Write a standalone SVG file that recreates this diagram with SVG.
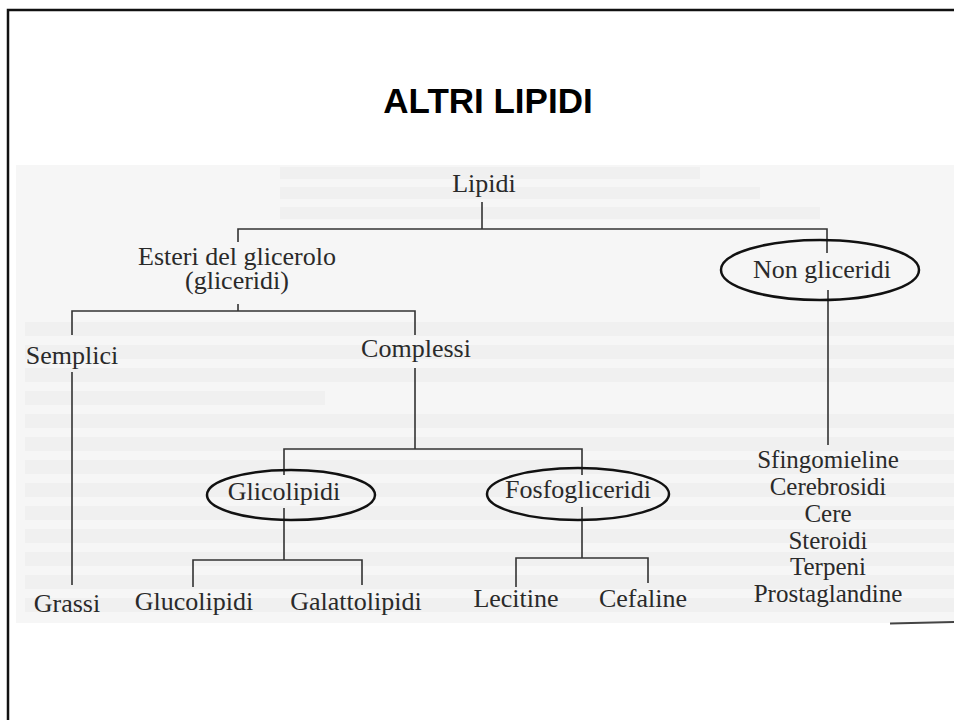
<svg xmlns="http://www.w3.org/2000/svg" width="954" height="720" viewBox="0 0 954 720">
<style>
.t{font-family:"Liberation Serif","Times New Roman",serif;font-size:26px;fill:#2a2a2a;text-anchor:middle}
.s{font-size:25px}
.c{stroke:#333;stroke-width:1.6;fill:none}
.e{stroke:#111;stroke-width:2.5;fill:none}
.g{fill:#000;opacity:0.025}
</style>
<rect x="0" y="0" width="954" height="720" fill="#fff"/>
<path d="M8 720 V10 H954" fill="none" stroke="#111" stroke-width="2.5"/>
<text x="488" y="113" font-family="Liberation Sans, Arial, sans-serif" font-weight="bold" font-size="35" text-anchor="middle" fill="#000">ALTRI LIPIDI</text>
<g id="scan-background">
<rect x="16" y="165" width="938" height="458" fill="#f6f6f6"/>
<rect class="g" x="280" y="167" width="420" height="12"/>
<rect class="g" x="280" y="187" width="480" height="12"/>
<rect class="g" x="280" y="207" width="540" height="12"/>
<rect class="g" x="25" y="322" width="929" height="14"/>
<rect class="g" x="25" y="345" width="929" height="14"/>
<rect class="g" x="25" y="368" width="929" height="14"/>
<rect class="g" x="25" y="391" width="300" height="14"/>
<rect class="g" x="25" y="414" width="929" height="14"/>
<rect class="g" x="25" y="437" width="929" height="14"/>
<rect class="g" x="25" y="460" width="929" height="14"/>
<rect class="g" x="25" y="483" width="929" height="14"/>
<rect class="g" x="25" y="506" width="929" height="14"/>
<rect class="g" x="25" y="529" width="929" height="14"/>
<rect class="g" x="25" y="552" width="929" height="14"/>
<rect class="g" x="25" y="575" width="929" height="14"/>
<rect class="g" x="25" y="598" width="929" height="14"/>
<line x1="890" y1="623.5" x2="954" y2="622" stroke="#444" stroke-width="2"/>
</g>
<g id="connectors">
<path class="c" d="M482 202 V229 M238 242 V229 H827 V253"/>
<path class="c" d="M238 304 V311 M72 335 V311 H415 V335"/>
<path class="c" d="M72 372 V585"/>
<path class="c" d="M415 368 V449 M284 475 V449 H582 V475"/>
<path class="c" d="M284 508 V560 M193 587 V560 H362 V585"/>
<path class="c" d="M582 507 V558 M516 587 V558 H648 V583"/>
<path class="c" d="M828 290 V445"/>
</g>
<g id="lipidi"><text class="t" x="484" y="192">Lipidi</text></g>
<g id="esteri"><text class="t" x="237" y="265">Esteri del glicerolo</text><text class="t" x="237" y="289">(gliceridi)</text></g>
<g id="non-gliceridi"><ellipse class="e" cx="820" cy="270" rx="99" ry="30"/><text class="t" x="822" y="278">Non gliceridi</text></g>
<g id="semplici"><text class="t" x="72" y="364">Semplici</text></g>
<g id="complessi"><text class="t" x="416" y="357">Complessi</text></g>
<g id="glicolipidi"><ellipse class="e" cx="291" cy="495" rx="84" ry="25"/><text class="t" x="284" y="500">Glicolipidi</text></g>
<g id="fosfogliceridi"><ellipse class="e" cx="578" cy="494" rx="91" ry="26"/><text class="t" x="578" y="498">Fosfogliceridi</text></g>
<g id="grassi"><text class="t" x="67" y="612">Grassi</text></g>
<g id="glucolipidi"><text class="t" x="194" y="610">Glucolipidi</text></g>
<g id="galattolipidi"><text class="t" x="356" y="610">Galattolipidi</text></g>
<g id="lecitine"><text class="t" x="516" y="607">Lecitine</text></g>
<g id="cefaline"><text class="t" x="643" y="607">Cefaline</text></g>
<g id="non-gliceridi-list">
<text class="t s" x="828" y="468">Sfingomieline</text>
<text class="t s" x="828" y="495">Cerebrosidi</text>
<text class="t s" x="828" y="522">Cere</text>
<text class="t s" x="828" y="549">Steroidi</text>
<text class="t s" x="828" y="575">Terpeni</text>
<text class="t s" x="828" y="602">Prostaglandine</text>
</g>
</svg>
